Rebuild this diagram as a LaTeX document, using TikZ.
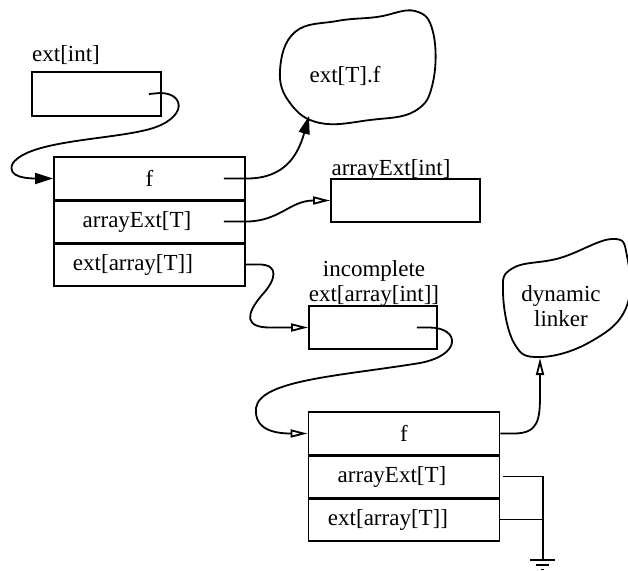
\documentclass[tikz,border=0pt]{standalone}
\usepackage{fontspec}
\setmainfont{Liberation Serif}
\usetikzlibrary{arrows.meta,calc}

\begin{document}
\begin{tikzpicture}[
    x=1pt, y=-1pt,
    font=\fontsize{23}{25}\selectfont,
    every path/.style={line width=1.8pt},
    field/.style={draw, minimum width=191pt, minimum height=43pt, inner sep=0pt},
    cell/.style={draw, inner sep=0pt},
    txt/.style={inner sep=0pt, align=center},
    divider/.style={line width=3pt},
    ptr/.style={-{Triangle[length=18pt,width=11pt]}},
    optr/.style={-{Triangle[open,length=17pt,width=8pt]}}
]
    \useasboundingbox (0,0) rectangle (628,570);

    % ext[int]
    \node[txt] (extintlbl) at (66,55) {ext[int]};
    \node[cell, minimum width=129pt, minimum height=44pt] (extint) at (96.5,94) {};

    % first struct
    \node[field] (f1) at (149.5,178.5) {f};
    \node[field] (ae1) at (149.5,221.5) {arrayExt[T]\kern25pt};
    \node[field] (ea1) at (149.5,264.5) {ext[array[T]]\kern33pt};
    \draw[divider] (f1.south west) -- (f1.south east);
    \draw[divider] (ae1.south west) -- (ae1.south east);

    % ext[T].f
    \draw plot[smooth cycle, tension=0.7] coordinates {(280,70) (295,32) (337,21) (377,17) (415,11) (433,32) (433,82) (415,111) (370,120) (320,123) (290,103)};
    \node[txt] (tf) at (345,76) {ext[T].f};
    \coordinate (tfin) at (309,116);

    % arrayExt[int]
    \node[txt] (aintlbl) at (391,170) {arrayExt[int]};
    \node[cell, minimum width=149pt, minimum height=43pt] (aint) at (405.5,200.5) {};

    % incomplete ext[array[int]]
    \node[txt] (inclbl) at (374,283) {incomplete\\ext[array[int]]};
    \node[cell, minimum width=128pt, minimum height=43pt] (inc) at (373,327.5) {};

    % dynamic linker
    \draw plot[smooth cycle, tension=0.7] coordinates {(503,292) (513,268) (560,258) (612,239) (627,256) (626,308) (590,342) (540,357) (514,343)};
    \node[txt] (dl) at (561,306) {dynamic\\linker};
    \coordinate (dlin) at (540,358);

    % second struct
    \node[field] (f2) at (404,433.5) {f};
    \node[field] (ae2) at (404,476.5) {arrayExt[T]\kern24pt};
    \node[field] (ea2) at (404,519.5) {ext[array[T]]\kern32pt};
    \draw[divider] (f2.south west) -- (f2.south east);
    \draw[divider] (ae2.south west) -- (ae2.south east);

    % pointers
    \draw[ptr] ($(extint.east)+(-13,0)$) -- (160,93) .. controls (185,93) and (188,118) .. (150,129)
        .. controls (110,140) and (30,140) .. (13,163) .. controls (5,178) and (30,178.5) .. (f1.west);
    \draw[ptr] ($(f1.east)+(-22,0)$) -- (248,178.5) .. controls (285,178) and (298,155) .. (tfin);
    \draw[optr] ($(ae1.east)+(-22,0)$) -- (247,221.5) .. controls (280,221) and (290,200.5) .. (aint.west);
    \draw[optr] (ea1.east) -- (258,264.5) .. controls (280,264) and (276,280) .. (262,295)
        .. controls (245,315) and (245,327.5) .. (270,327.5) -- (inc.west);
    \draw[optr] ($(inc.east)+(-21,0)$) -- (430,327.5) .. controls (460,328) and (462,355) .. (420,363)
        .. controls (340,376) and (260,380) .. (256,408) .. controls (254,430) and (275,433.5) .. (f2.west);
    \draw[optr] (f2.east) -- (515,433.5) .. controls (538,433) and (540,420) .. (540,395) -- (dlin);

    % ground
    \coordinate (gnd) at (543,560);
    \draw ($(ae2.east)+(3,0)$) -- (gnd |- ae2.east) -- (gnd);
    \draw (ea2.east) -- (gnd |- ea2.east);
    \draw ($(gnd)+(-13,0)$) -- ($(gnd)+(12,0)$);
    \draw ($(gnd)+(-7,5)$) -- ($(gnd)+(6,5)$);
    \draw ($(gnd)+(-2,9.5)$) -- ($(gnd)+(1,9.5)$);
\end{tikzpicture}
\end{document}
